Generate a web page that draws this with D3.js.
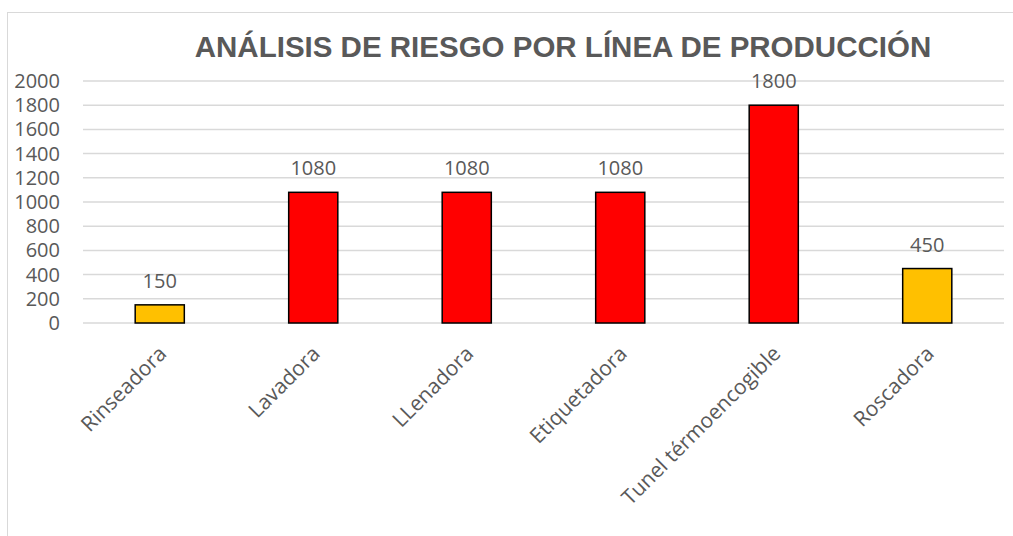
<!DOCTYPE html>
<html>
<head>
<meta charset="utf-8">
<script src="https://cdn.jsdelivr.net/npm/d3@7"></script>
<style>
  body { margin: 0; background: #fff; }
  svg text { fill: #595959; }
</style>
</head>
<body>
<svg id="chart" width="1013" height="536"></svg>
<script>
// datos del grafico
const categorias = ["Rinseadora", "Lavadora", "LLenadora", "Etiquetadora", "Tunel térmoencogible", "Roscadora"];
const valores = [150, 1080, 1080, 1080, 1800, 450];
const colores = ["#FFC000", "#FF0000", "#FF0000", "#FF0000", "#FF0000", "#FFC000"];
const ticksY = [0, 200, 400, 600, 800, 1000, 1200, 1400, 1600, 1800, 2000];
const titulo = "ANÁLISIS DE RIESGO POR LÍNEA DE PRODUCCIÓN";

const svg = d3.select("#chart");
const margin = { left: 83, right: 9, top: 81, bottom: 213 };
const width = 1013 - margin.left - margin.right;
const height = 536 - margin.top - margin.bottom;

// marco del grafico
svg.append("rect")
    .attr("x", 7.5).attr("y", 12.5)
    .attr("width", 1013).attr("height", 600)
    .attr("fill", "none")
    .attr("stroke", "#d9d9d9");

svg.append("text")
    .attr("x", 563)
    .attr("y", 57)
    .attr("text-anchor", "middle")
    .style("font-family", "Liberation Sans, Arial, sans-serif")
    .style("font-weight", "bold")
    .style("font-size", "29.5px")
    .text(titulo);

const g = svg.append("g").attr("transform", `translate(${margin.left},${margin.top})`);

const x = d3.scaleBand().domain(categorias).range([0, width]).paddingInner(0.68).paddingOuter(0.34);
const y = d3.scaleLinear().domain([0, 2000]).range([height, 0]);

// lineas de division
g.selectAll(".grid")
    .data(ticksY)
    .enter()
    .append("line")
    .attr("class", "grid")
    .attr("x1", 0).attr("x2", width)
    .attr("y1", d => y(d)).attr("y2", d => y(d))
    .attr("stroke", "#d9d9d9")
    .attr("stroke-width", 1.5);

// eje Y
const ejeY = g.append("g")
    .call(d3.axisLeft(y).tickValues(ticksY).tickFormat(d3.format("d")).tickSize(0).tickPadding(23));
ejeY.select(".domain").remove();
ejeY.selectAll("text")
    .style("font-family", "Open Sans, sans-serif")
    .style("font-size", "20px")
    .attr("fill", "#595959");

// barras
g.selectAll(".bar")
    .data(valores)
    .enter()
    .append("rect")
    .attr("class", "bar")
    .attr("x", (d, i) => x(categorias[i]))
    .attr("y", d => y(d))
    .attr("width", x.bandwidth())
    .attr("height", d => height - y(d))
    .style("fill", (d, i) => colores[i])
    .attr("stroke", "#000")
    .attr("stroke-width", 1.5);

// etiquetas de valor
g.selectAll(".bar-text")
    .data(valores)
    .enter()
    .append("text")
    .attr("class", "bar-text")
    .attr("x", (d, i) => x(categorias[i]) + x.bandwidth() / 2)
    .attr("y", d => y(d) - 17)
    .attr("text-anchor", "middle")
    .style("font-family", "Open Sans, sans-serif")
    .style("font-size", "20px")
    .text(d => d);

// eje X con etiquetas giradas
const ejeX = g.append("g")
    .attr("transform", `translate(0,${height})`)
    .call(d3.axisBottom(x).tickSize(0).tickPadding(0));
ejeX.select(".domain").remove();
ejeX.selectAll("text")
    .style("font-family", "Open Sans, sans-serif")
    .style("font-size", "21px")
    .attr("fill", "#595959")
    .attr("text-anchor", "end")
    .attr("dy", "0")
    .attr("transform", "translate(8,32) rotate(-45)");
</script>
</body>
</html>
